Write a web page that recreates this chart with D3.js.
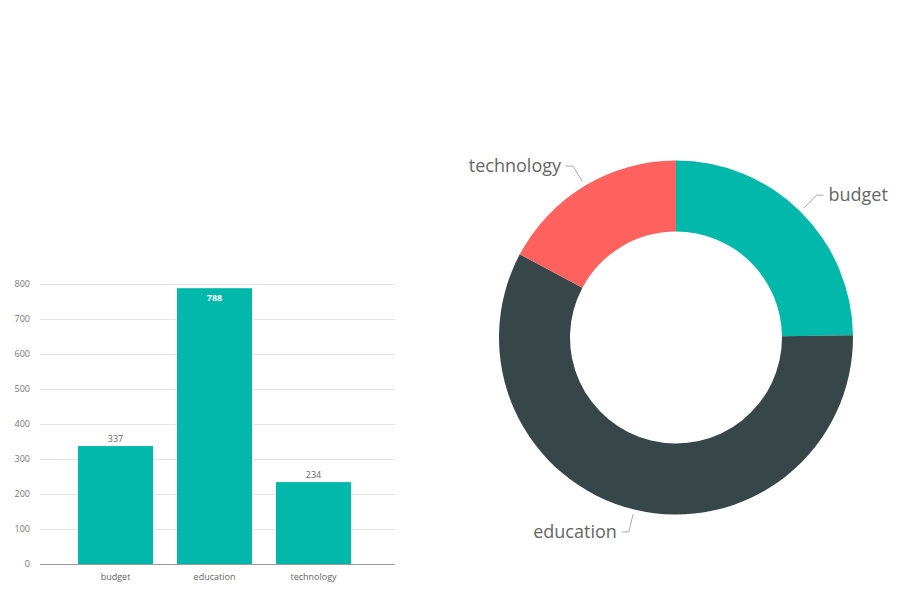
<!DOCTYPE html>
<html><head><meta charset="utf-8">
<script src="https://cdn.jsdelivr.net/npm/d3@7"></script>
<style>body{margin:0;background:#fff}svg{display:block}</style>
</head><body>
<script>
const categories = ["budget", "education", "technology"];
const values = [337, 788, 234];
const yTicks = [0, 100, 200, 300, 400, 500, 600, 700, 800];
const colors = ["#01B8AA", "#374649", "#FD625E"];

const W = 915, H = 596;
const svg = d3.select("body").append("svg").attr("width", W).attr("height", H);
const font = "'Segoe UI', 'Open Sans', 'DejaVu Sans', sans-serif";

// Bar chart
const x = d3.scaleBand().domain(categories).range([66, 363]).paddingInner(0.2424).paddingOuter(0.1212);
const y = d3.scaleLinear().domain([0, 800]).range([564, 284]);
const bar = svg.append("g");
bar.selectAll("line.grid").data(yTicks.filter(t => t > 0)).join("line")
  .attr("x1", 40).attr("x2", 395).attr("y1", d => y(d)).attr("y2", d => y(d))
  .attr("stroke", "#e6e6e6").attr("stroke-width", 1).attr("shape-rendering", "crispEdges");
bar.selectAll("text.yt").data(yTicks).join("text")
  .attr("x", 30).attr("y", d => y(d)).attr("dy", "0.35em").attr("text-anchor", "end")
  .attr("font-family", font).attr("font-size", 9).attr("fill", "#777").text(d => d);
bar.selectAll("rect").data(values).join("rect")
  .attr("x", (d, i) => x(categories[i])).attr("width", x.bandwidth())
  .attr("y", d => y(d)).attr("height", d => y(0) - y(d)).attr("fill", colors[0]);
bar.append("line").attr("x1", 40).attr("x2", 395).attr("y1", y(0)).attr("y2", y(0))
  .attr("stroke", "#999").attr("shape-rendering", "crispEdges");
bar.selectAll("text.xl").data(categories).join("text")
  .attr("x", d => x(d) + x.bandwidth() / 2).attr("y", 580).attr("text-anchor", "middle")
  .attr("font-family", font).attr("font-size", 9).attr("fill", "#666").text(d => d);
bar.selectAll("text.vl").data(values).join("text")
  .attr("x", (d, i) => x(categories[i]) + x.bandwidth() / 2)
  .attr("y", d => d > 600 ? y(d) + 13 : y(d) - 4)
  .attr("text-anchor", "middle").attr("font-family", font).attr("font-size", 9)
  .attr("font-weight", d => d > 600 ? "bold" : "normal")
  .attr("fill", d => d > 600 ? "#fff" : "#666").text(d => d);

// Donut
const cx = 676, cy = 337.5, R = 177, r = 106;
const pie = d3.pie().sort(null).value(d => d)(values);
const arc = d3.arc().innerRadius(r).outerRadius(R);
const g = svg.append("g").attr("transform", `translate(${cx},${cy})`);
g.selectAll("path").data(pie).join("path").attr("d", arc).attr("fill", (d, i) => colors[i]);
pie.forEach((d, i) => {
  const a = (d.startAngle + d.endAngle) / 2;
  const s = Math.sin(a), c = -Math.cos(a);
  const p1 = [s * (R + 5), c * (R + 5)];
  const p2 = [s * (R + 23), c * (R + 23)];
  const right = s > 0;
  const p3 = [p2[0] + (right ? 7 : -7), p2[1]];
  g.append("polyline").attr("points", [p1, p2, p3].map(p => p.join(",")).join(" "))
    .attr("fill", "none").attr("stroke", "#aaa").attr("stroke-width", 1);
  g.append("text").attr("x", p3[0] + (right ? 5 : -5)).attr("y", p3[1]).attr("dy", "0.35em")
    .attr("text-anchor", right ? "start" : "end")
    .attr("font-family", font).attr("font-size", 18).attr("fill", "#666").text(categories[i]);
});
</script>
</body></html>
